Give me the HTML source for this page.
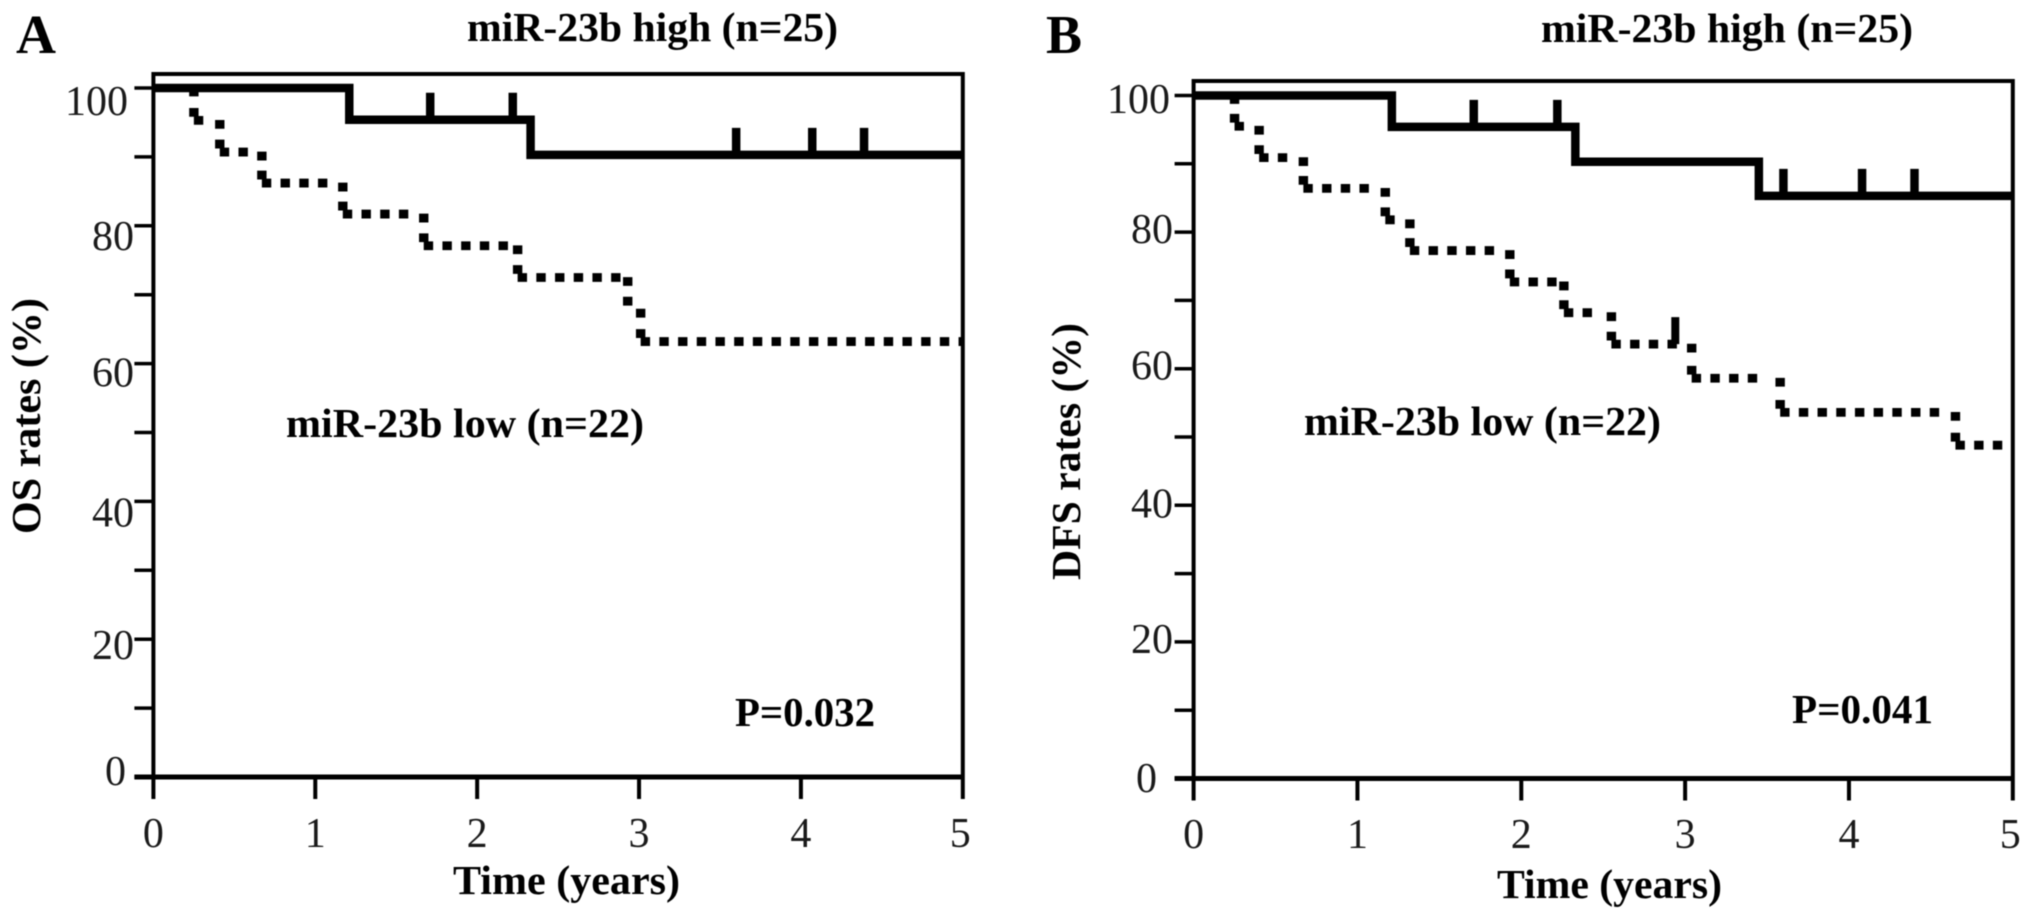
<!DOCTYPE html>
<html lang="en">
<head>
<meta charset="utf-8">
<title>miR-23b Kaplan-Meier survival curves</title>
<style>
html,body{margin:0;padding:0;background:#fff;}
#figure{display:block;width:2031px;height:920px;background:#fff;filter:blur(0.6px);}
text{font-family:"Liberation Serif",serif;fill:#000;}
.num{font-size:42px;fill:#1a1a1a;}
.lab{font-size:41px;font-weight:bold;}
.panel-letter{font-size:55px;font-weight:bold;}
</style>
</head>
<body>
<svg id="figure" xmlns="http://www.w3.org/2000/svg" width="2031" height="920" viewBox="0 0 2031 920">
  <text class="panel-letter" x="16" y="53" textLength="40" lengthAdjust="spacingAndGlyphs">A</text>
  <text class="lab" x="467" y="41" textLength="371" lengthAdjust="spacingAndGlyphs">miR-23b high (n=25)</text>
  <text class="lab" x="286" y="437" textLength="358" lengthAdjust="spacingAndGlyphs">miR-23b low (n=22)</text>
  <text class="lab" x="735" y="726" textLength="140" lengthAdjust="spacingAndGlyphs">P=0.032</text>
  <text class="lab" x="453" y="894" textLength="227" lengthAdjust="spacingAndGlyphs">Time (years)</text>
  <text class="lab" transform="translate(40,534) rotate(-90)" x="0" y="0" textLength="236" lengthAdjust="spacingAndGlyphs">OS rates (%)</text>

  <text class="panel-letter" x="1046" y="53" textLength="36" lengthAdjust="spacingAndGlyphs">B</text>
  <text class="lab" x="1541" y="42" textLength="372" lengthAdjust="spacingAndGlyphs">miR-23b high (n=25)</text>
  <text class="lab" x="1304" y="435" textLength="357" lengthAdjust="spacingAndGlyphs">miR-23b low (n=22)</text>
  <text class="lab" x="1792" y="723" textLength="141" lengthAdjust="spacingAndGlyphs">P=0.041</text>
  <text class="lab" x="1497" y="898" textLength="225" lengthAdjust="spacingAndGlyphs">Time (years)</text>
  <text class="lab" transform="translate(1080,580) rotate(-90)" x="0" y="0" textLength="257" lengthAdjust="spacingAndGlyphs">DFS rates (%)</text>
</svg>
<script>
// Tick labels
const xTickLabels = [0, 1, 2, 3, 4, 5];
const yTickValues = [0, 10, 20, 30, 40, 50, 60, 70, 80, 90, 100];
const yLabelValues = [0, 20, 40, 60, 80, 100];

// Panel A (overall survival)
const aHighTimes = [1.21, 2.33];
const aHighRates = [95.4, 90.3];
const aHighCensored = [1.71, 2.22, 3.6, 4.07, 4.39];
const aLowTimes = [0.25, 0.41, 0.67, 1.17, 1.67, 2.25, 2.93, 3.01];
const aLowRates = [95.3, 90.7, 86.2, 81.7, 77.1, 72.5, 67.9, 63.2];
const aLowCensored = [];

// Panel B (disease-free survival)
const bHighTimes = [1.21, 2.33, 3.45];
const bHighRates = [95.4, 90.3, 85.3];
const bHighCensored = [1.71, 2.22, 3.6, 4.08, 4.4];
const bLowTimes = [0.25, 0.40, 0.67, 1.17, 1.32, 1.93, 2.26, 2.55, 3.04, 3.58, 4.65];
const bLowRates = [95.5, 90.9, 86.4, 81.8, 77.3, 72.7, 68.2, 63.6, 58.6, 53.6, 48.8];
const bLowCensored = [2.94];

const svg = document.getElementById('figure');
const NS = 'http://www.w3.org/2000/svg';

function make(tag, attrs) {
  const el = document.createElementNS(NS, tag);
  for (const k in attrs) el.setAttribute(k, attrs[k]);
  svg.appendChild(el);
  return el;
}

function stepPath(times, rates, x, y) {
  let d = 'M' + x(0) + ' ' + y(100);
  for (let i = 0; i < times.length; i++) {
    d += 'H' + x(times[i]) + 'V' + y(rates[i]);
  }
  return d + 'H' + x(5);
}

// The low-group curve is a dotted stair: two dots on each drop, then evenly spaced dots along each level.
function dottedPath(times, rates, x, y) {
  const w = 9.4, h = 8.8, period = 18.7;
  const limit = x(5) + 1;
  let d = '';
  const dot = (cx, cy) => {
    const left = cx - w / 2;
    const width = Math.min(w, limit - left);
    d += 'M' + left + ' ' + (cy - h / 2) + 'h' + width + 'v' + h + 'h' + (-width) + 'z';
  };
  let prev = 100;
  for (let i = 0; i < times.length; i++) {
    const sx = x(times[i]);
    dot(sx, y(prev) + 4);
    dot(sx, y(rates[i]) - 8);
    const end = i + 1 < times.length ? x(times[i + 1]) - 10 : limit;
    for (let px = sx + 4.7; px <= end; px += period) dot(px, y(rates[i]));
    prev = rates[i];
  }
  return d;
}

function rateAt(times, rates, t) {
  let r = 100;
  for (let i = 0; i < times.length; i++) if (times[i] <= t) r = rates[i];
  return r;
}

function drawPanel(id, g, high, low) {
  const x = t => g.left + (g.right - g.left) * t / 5;
  const y = v => g.zero + (g.full - g.zero) * v / 100;

  const frame = make('path', {d: 'M' + x(0) + ' ' + g.top + 'H' + x(5) + 'M' + x(0) + ' ' + (g.top - 2) + 'V' + y(0) + 'M' + x(5) + ' ' + (g.top - 2) + 'V' + y(0), fill: 'none', stroke: '#000', 'stroke-width': 4});
  
  

  const base = make('line', {x1: x(0) - 19, x2: x(5) + 1, y1: y(0), y2: y(0), stroke: '#000', 'stroke-width': 5});
  
  

  yTickValues.forEach(v => {
    const t = make('line', {x1: x(0) - 19, x2: x(0), y1: y(v), y2: y(v), stroke: '#000', 'stroke-width': 3.5});
    
    
  });

  yLabelValues.forEach(v => {
    const lab = make('text', {class: 'num', x: g.labelRight(v), y: y(v) + g.labelDrop[v], 'text-anchor': 'end'});
    lab.textContent = v;
    
    
  });

  xTickLabels.forEach(t => {
    const tk = make('line', {x1: x(t), x2: x(t), y1: y(0), y2: y(0) + 22, stroke: '#000', 'stroke-width': 4});
    
    
    const lab = make('text', {class: 'num', x: x(t) - (t === 5 ? 2.5 : 0), y: g.xLabelY, 'text-anchor': 'middle'});
    lab.textContent = t;
    
    
  });

  const lowLine = make('path', {d: dottedPath(low.times, low.rates, x, y), fill: '#000'});
  
  

  low.censored.forEach(t => {
    const yy = y(rateAt(low.times, low.rates, t));
    const c = make('line', {x1: x(t), x2: x(t), y1: yy - 27, y2: yy, stroke: '#000', 'stroke-width': 8});
    
    
  });

  const highLine = make('path', {d: stepPath(high.times, high.rates, x, y), fill: 'none', stroke: '#000', 'stroke-width': 8.5});
  
  

  high.censored.forEach(t => {
    const yy = y(rateAt(high.times, high.rates, t));
    const c = make('line', {x1: x(t), x2: x(t), y1: yy - 27, y2: yy, stroke: '#000', 'stroke-width': 8.5});
    
    
  });
}

drawPanel('panel-a',
  {left: 153.4, right: 962.8, top: 74, zero: 777, full: 88, xLabelY: 847,
   labelRight: v => (v === 100 ? 128 : v === 0 ? 126 : 134),
   labelDrop: {0: 8, 20: 20, 40: 25, 60: 23, 80: 24, 100: 27}},
  {times: aHighTimes, rates: aHighRates, censored: aHighCensored},
  {times: aLowTimes, rates: aLowRates, censored: aLowCensored});

drawPanel('panel-b',
  {left: 1193.6, right: 2012.8, top: 81, zero: 778.5, full: 95.5, xLabelY: 848,
   labelRight: v => (v === 100 ? 1170 : v === 0 ? 1157 : 1173),
   labelDrop: {0: 13.5, 20: 11, 40: 12, 60: 11, 80: 11, 100: 17.5}},
  {times: bHighTimes, rates: bHighRates, censored: bHighCensored},
  {times: bLowTimes, rates: bLowRates, censored: bLowCensored});
</script>
</body>
</html>
